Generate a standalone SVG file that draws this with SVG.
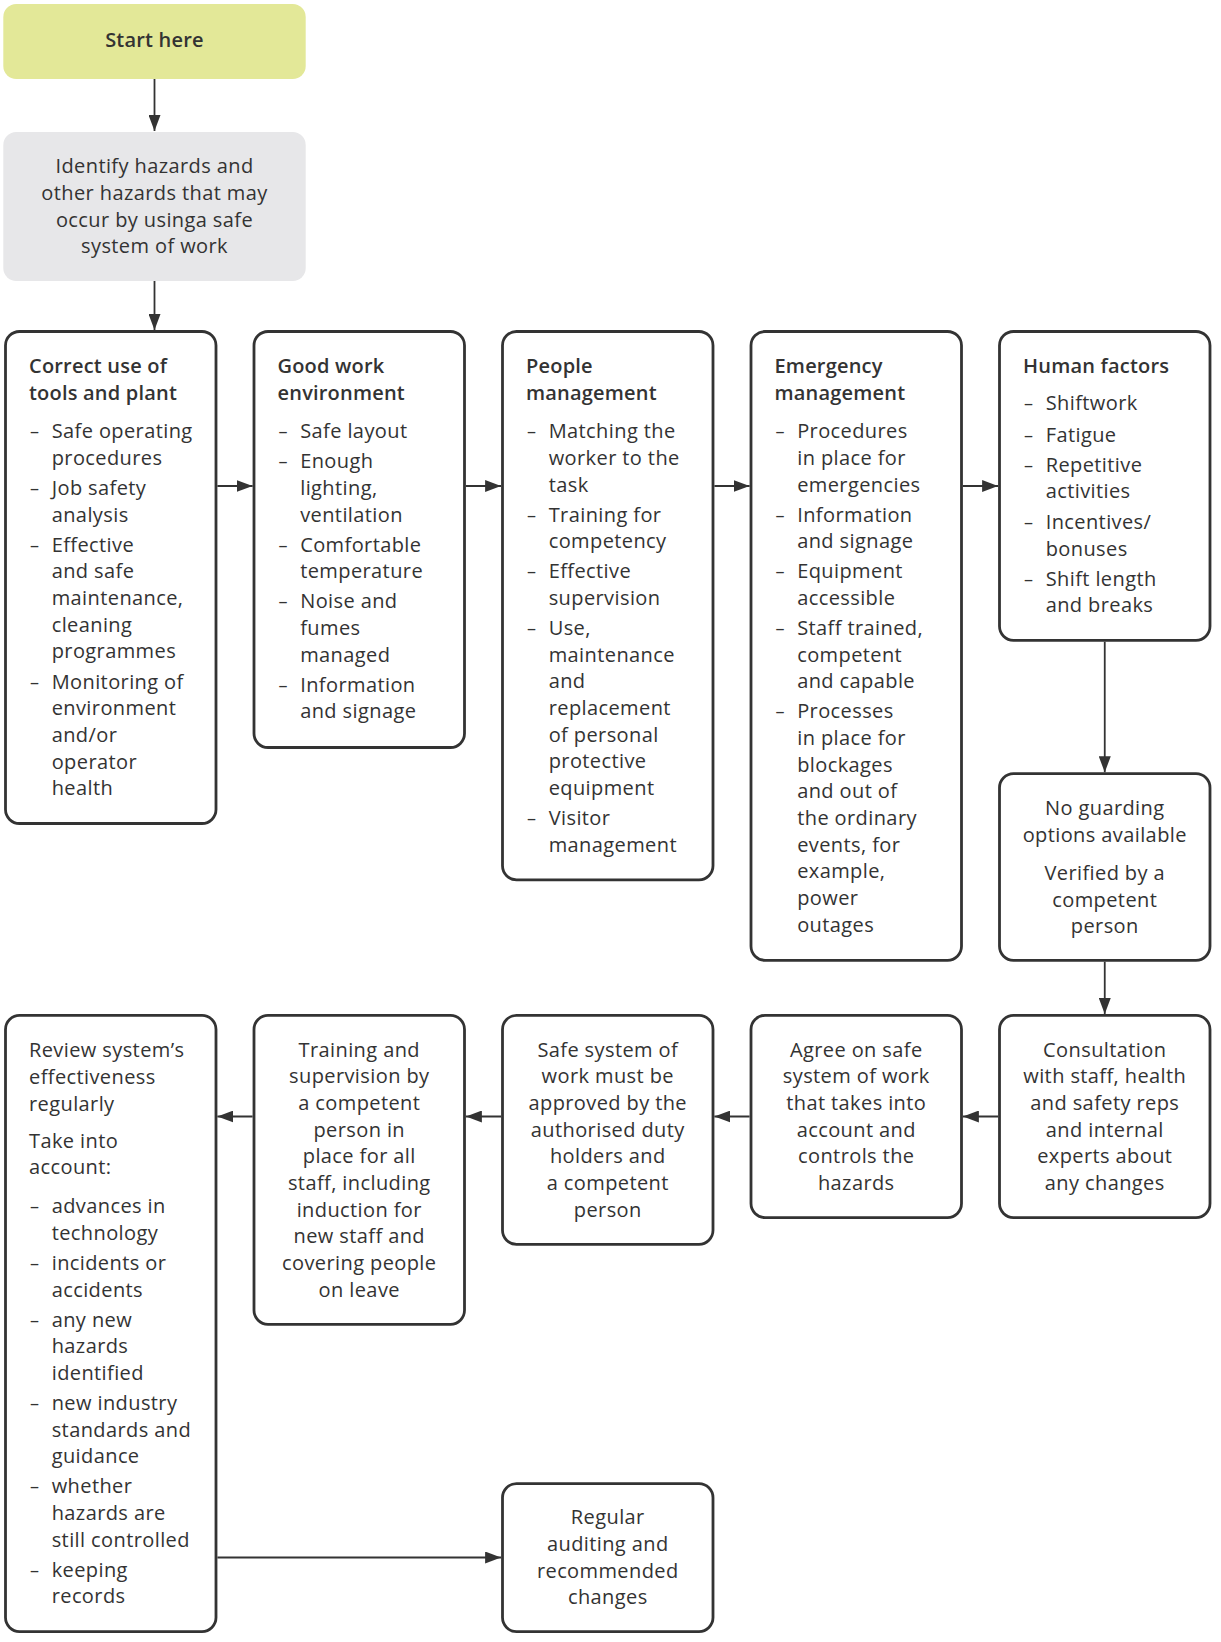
<svg xmlns="http://www.w3.org/2000/svg" width="1221" height="1642" viewBox="0 0 1221 1642">
<defs>
<style>
.box{fill:#ffffff;stroke:#333333;stroke-width:2.8}
.start{fill:#e3e898}
.grey{fill:#e7e7e9}
text{font-family:"Open Sans","Noto Sans","Liberation Sans",sans-serif;font-size:20px;fill:#333333;letter-spacing:0.4px}
.c{text-anchor:middle}
.b{font-weight:600;letter-spacing:0.2px}
.d{font-size:18px;letter-spacing:0}
.conn line{stroke:#333333;stroke-width:1.8;fill:none;marker-end:url(#arrow)}
</style>
<marker id="arrow" markerUnits="userSpaceOnUse" markerWidth="16" markerHeight="12" viewBox="0 0 16 12" refX="16" refY="6" orient="auto">
<path d="M0,0 L16,6 L0,12 z" fill="#333333"/>
</marker>
</defs>
<rect width="1221" height="1642" fill="#ffffff"/>

<g id="start">
<rect class="start" x="3.3" y="4" width="302.4" height="75" rx="13"/>
<text class="c b" x="154.5" y="47">Start here</text>
</g>

<g id="identify">
<rect class="grey" x="3.3" y="132" width="302.4" height="149" rx="13"/>
<text class="c" x="154.5" y="173.3">Identify hazards and</text>
<text class="c" x="154.5" y="200">other hazards that may</text>
<text class="c" x="154.5" y="226.7">occur by usinga safe</text>
<text class="c" x="154.5" y="253.3">system of work</text>
</g>

<g id="tools">
<rect class="box" x="5.5" y="331.5" width="210.5" height="492" rx="14"/>
<text class="b" x="29" y="373.3">Correct use of</text>
<text class="b" x="29" y="400">tools and plant</text>
<text class="d" x="30" y="438.3">–</text><text x="51.7" y="438.3">Safe operating</text>
<text x="51.7" y="465">procedures</text>
<text class="d" x="30" y="495">–</text><text x="51.7" y="495">Job safety</text>
<text x="51.7" y="521.7">analysis</text>
<text class="d" x="30" y="551.7">–</text><text x="51.7" y="551.7">Effective</text>
<text x="51.7" y="578.3">and safe</text>
<text x="51.7" y="605">maintenance,</text>
<text x="51.7" y="631.7">cleaning</text>
<text x="51.7" y="658.3">programmes</text>
<text class="d" x="30" y="688.7">–</text><text x="51.7" y="688.7">Monitoring of</text>
<text x="51.7" y="715.3">environment</text>
<text x="51.7" y="742">and/or</text>
<text x="51.7" y="768.7">operator</text>
<text x="51.7" y="795.3">health</text>
</g>

<g id="environment">
<rect class="box" x="254" y="331.5" width="210.5" height="416" rx="14"/>
<text class="b" x="277.5" y="373.3">Good work</text>
<text class="b" x="277.5" y="400">environment</text>
<text class="d" x="278.5" y="438.3">–</text><text x="300.2" y="438.3">Safe layout</text>
<text class="d" x="278.5" y="468.3">–</text><text x="300.2" y="468.3">Enough</text>
<text x="300.2" y="495">lighting,</text>
<text x="300.2" y="521.7">ventilation</text>
<text class="d" x="278.5" y="551.7">–</text><text x="300.2" y="551.7">Comfortable</text>
<text x="300.2" y="578.3">temperature</text>
<text class="d" x="278.5" y="608.3">–</text><text x="300.2" y="608.3">Noise and</text>
<text x="300.2" y="635">fumes</text>
<text x="300.2" y="661.7">managed</text>
<text class="d" x="278.5" y="691.7">–</text><text x="300.2" y="691.7">Information</text>
<text x="300.2" y="718.3">and signage</text>
</g>

<g id="people">
<rect class="box" x="502.5" y="331.5" width="210.5" height="548.3" rx="14"/>
<text class="b" x="526" y="373.3">People</text>
<text class="b" x="526" y="400">management</text>
<text class="d" x="527" y="438.3">–</text><text x="548.7" y="438.3">Matching the</text>
<text x="548.7" y="465">worker to the</text>
<text x="548.7" y="491.7">task</text>
<text class="d" x="527" y="521.7">–</text><text x="548.7" y="521.7">Training for</text>
<text x="548.7" y="548.3">competency</text>
<text class="d" x="527" y="578.3">–</text><text x="548.7" y="578.3">Effective</text>
<text x="548.7" y="605">supervision</text>
<text class="d" x="527" y="635">–</text><text x="548.7" y="635">Use,</text>
<text x="548.7" y="661.7">maintenance</text>
<text x="548.7" y="688.3">and</text>
<text x="548.7" y="715">replacement</text>
<text x="548.7" y="741.7">of personal</text>
<text x="548.7" y="768.3">protective</text>
<text x="548.7" y="795">equipment</text>
<text class="d" x="527" y="825">–</text><text x="548.7" y="825">Visitor</text>
<text x="548.7" y="851.7">management</text>
</g>

<g id="emergency">
<rect class="box" x="751" y="331.5" width="210.5" height="628.8" rx="14"/>
<text class="b" x="774.5" y="373.3">Emergency</text>
<text class="b" x="774.5" y="400">management</text>
<text class="d" x="775.5" y="438.3">–</text><text x="797.2" y="438.3">Procedures</text>
<text x="797.2" y="465">in place for</text>
<text x="797.2" y="491.7">emergencies</text>
<text class="d" x="775.5" y="521.7">–</text><text x="797.2" y="521.7">Information</text>
<text x="797.2" y="548.3">and signage</text>
<text class="d" x="775.5" y="578.3">–</text><text x="797.2" y="578.3">Equipment</text>
<text x="797.2" y="605">accessible</text>
<text class="d" x="775.5" y="635">–</text><text x="797.2" y="635">Staff trained,</text>
<text x="797.2" y="661.7">competent</text>
<text x="797.2" y="688.3">and capable</text>
<text class="d" x="775.5" y="718.3">–</text><text x="797.2" y="718.3">Processes</text>
<text x="797.2" y="745">in place for</text>
<text x="797.2" y="771.7">blockages</text>
<text x="797.2" y="798.3">and out of</text>
<text x="797.2" y="825">the ordinary</text>
<text x="797.2" y="851.7">events, for</text>
<text x="797.2" y="878.3">example,</text>
<text x="797.2" y="905">power</text>
<text x="797.2" y="931.7">outages</text>
</g>

<g id="human">
<rect class="box" x="999.5" y="331.5" width="210.5" height="308.8" rx="14"/>
<text class="b" x="1023" y="372.7">Human factors</text>
<text class="d" x="1024" y="410">–</text><text x="1045.7" y="410">Shiftwork</text>
<text class="d" x="1024" y="441.7">–</text><text x="1045.7" y="441.7">Fatigue</text>
<text class="d" x="1024" y="471.7">–</text><text x="1045.7" y="471.7">Repetitive</text>
<text x="1045.7" y="498.3">activities</text>
<text class="d" x="1024" y="529">–</text><text x="1045.7" y="529">Incentives/</text>
<text x="1045.7" y="555.7">bonuses</text>
<text class="d" x="1024" y="585.7">–</text><text x="1045.7" y="585.7">Shift length</text>
<text x="1045.7" y="612.3">and breaks</text>
</g>

<g id="noguarding">
<rect class="box" x="999.5" y="773.7" width="210.5" height="186.6" rx="14"/>
<text class="c" x="1104.75" y="815">No guarding</text>
<text class="c" x="1104.75" y="841.7">options available</text>
<text class="c" x="1104.75" y="880">Verified by a</text>
<text class="c" x="1104.75" y="906.7">competent</text>
<text class="c" x="1104.75" y="933.3">person</text>
</g>

<g id="consultation">
<rect class="box" x="999.5" y="1015.4" width="210.5" height="202.2" rx="14"/>
<text class="c" x="1104.75" y="1056.7">Consultation</text>
<text class="c" x="1104.75" y="1083.3">with staff, health</text>
<text class="c" x="1104.75" y="1110">and safety reps</text>
<text class="c" x="1104.75" y="1136.7">and internal</text>
<text class="c" x="1104.75" y="1163.3">experts about</text>
<text class="c" x="1104.75" y="1190">any changes</text>
</g>

<g id="agree">
<rect class="box" x="751" y="1015.4" width="210.5" height="202.2" rx="14"/>
<text class="c" x="856.25" y="1056.7">Agree on safe</text>
<text class="c" x="856.25" y="1083.3">system of work</text>
<text class="c" x="856.25" y="1110">that takes into</text>
<text class="c" x="856.25" y="1136.7">account and</text>
<text class="c" x="856.25" y="1163.3">controls the</text>
<text class="c" x="856.25" y="1190">hazards</text>
</g>

<g id="approved">
<rect class="box" x="502.5" y="1015.4" width="210.5" height="228.9" rx="14"/>
<text class="c" x="607.75" y="1056.7">Safe system of</text>
<text class="c" x="607.75" y="1083.3">work must be</text>
<text class="c" x="607.75" y="1110">approved by the</text>
<text class="c" x="607.75" y="1136.7">authorised duty</text>
<text class="c" x="607.75" y="1163.3">holders and</text>
<text class="c" x="607.75" y="1190">a competent</text>
<text class="c" x="607.75" y="1216.7">person</text>
</g>

<g id="training">
<rect class="box" x="254" y="1015.4" width="210.5" height="308.9" rx="14"/>
<text class="c" x="359.25" y="1056.7">Training and</text>
<text class="c" x="359.25" y="1083.3">supervision by</text>
<text class="c" x="359.25" y="1110">a competent</text>
<text class="c" x="359.25" y="1136.7">person in</text>
<text class="c" x="359.25" y="1163.3">place for all</text>
<text class="c" x="359.25" y="1190">staff, including</text>
<text class="c" x="359.25" y="1216.7">induction for</text>
<text class="c" x="359.25" y="1243.3">new staff and</text>
<text class="c" x="359.25" y="1270">covering people</text>
<text class="c" x="359.25" y="1296.7">on leave</text>
</g>

<g id="review">
<rect class="box" x="5.5" y="1015.4" width="210.5" height="616.2" rx="14"/>
<text x="29" y="1057.3">Review system’s</text>
<text x="29" y="1084">effectiveness</text>
<text x="29" y="1110.7">regularly</text>
<text x="29" y="1147.7">Take into</text>
<text x="29" y="1174.3">account:</text>
<text class="d" x="30" y="1213.3">–</text><text x="51.7" y="1213.3">advances in</text>
<text x="51.7" y="1240">technology</text>
<text class="d" x="30" y="1270">–</text><text x="51.7" y="1270">incidents or</text>
<text x="51.7" y="1296.7">accidents</text>
<text class="d" x="30" y="1326.7">–</text><text x="51.7" y="1326.7">any new</text>
<text x="51.7" y="1353.3">hazards</text>
<text x="51.7" y="1380">identified</text>
<text class="d" x="30" y="1410">–</text><text x="51.7" y="1410">new industry</text>
<text x="51.7" y="1436.7">standards and</text>
<text x="51.7" y="1463.3">guidance</text>
<text class="d" x="30" y="1493.3">–</text><text x="51.7" y="1493.3">whether</text>
<text x="51.7" y="1520">hazards are</text>
<text x="51.7" y="1546.7">still controlled</text>
<text class="d" x="30" y="1576.7">–</text><text x="51.7" y="1576.7">keeping</text>
<text x="51.7" y="1603.3">records</text>
</g>

<g id="auditing">
<rect class="box" x="502.5" y="1483.7" width="210.5" height="147.9" rx="14"/>
<text class="c" x="607.75" y="1524.3">Regular</text>
<text class="c" x="607.75" y="1551">auditing and</text>
<text class="c" x="607.75" y="1577.7">recommended</text>
<text class="c" x="607.75" y="1604.3">changes</text>
</g>

<g id="connectors" class="conn">
<line x1="154.5" y1="79" x2="154.5" y2="131"/>
<line x1="154.5" y1="281" x2="154.5" y2="330"/>
<line x1="217.4" y1="486" x2="252.6" y2="486"/>
<line x1="465.9" y1="486" x2="501.1" y2="486"/>
<line x1="714.4" y1="486" x2="749.6" y2="486"/>
<line x1="962.9" y1="486" x2="998.1" y2="486"/>
<line x1="1104.75" y1="641.7" x2="1104.75" y2="772.3"/>
<line x1="1104.75" y1="961.7" x2="1104.75" y2="1014"/>
<line x1="998.1" y1="1116.5" x2="962.9" y2="1116.5"/>
<line x1="749.6" y1="1116.5" x2="714.4" y2="1116.5"/>
<line x1="501.1" y1="1116.5" x2="465.9" y2="1116.5"/>
<line x1="252.6" y1="1116.5" x2="217.4" y2="1116.5"/>
<line x1="217.4" y1="1557.5" x2="501.1" y2="1557.5"/>
</g>
</svg>
